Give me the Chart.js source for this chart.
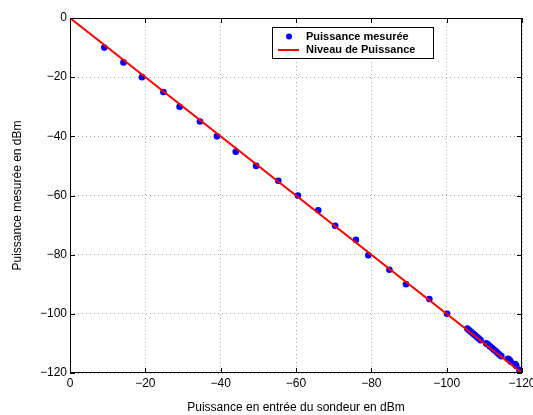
<!DOCTYPE html>
<html>
<head>
<meta charset="utf-8">
<script src="https://cdn.jsdelivr.net/npm/chart.js@4"></script>
<style>
  html, body { margin: 0; padding: 0; background: #fff; }
  #wrap { width: 533px; height: 415px; }
</style>
</head>
<body>
<div id="wrap"><canvas id="chart" width="533" height="415"></canvas></div>
<script>
// mesures (entrée / mesurée), en dBm
const measIn = [-9.1, -14.2, -19.1, -24.8, -29.1, -34.5, -39, -44, -49.4, -55.3, -60.5, -65.9, -70.4,
  -75.9, -79.2, -84.8, -89.2, -95.4, -100.1,
  -105.5, -106, -106.5, -107, -107.5, -108, -108.5, -109, -110.5, -111, -111.5, -112, -112.5,
  -113, -113.5, -114, -114.5, -116.3, -116.7, -117, -118.2, -118.5, -119.3, -119.7];
const measOut = [-10, -15, -20, -25, -30, -35, -40, -45.2, -50, -55, -60, -65, -70.2,
  -75, -80.2, -85.1, -90, -95, -100,
  -105, -105.6, -106.1, -106.7, -107.2, -107.8, -108.3, -108.9, -110, -110.4, -111, -111.5, -112.1,
  -112.6, -113.2, -113.8, -114.3, -115.2, -115.6, -116.2, -117, -117.6, -119, -119.8];

// niveau de puissance théorique
const levelIn = [0, -120];
const levelOut = [0, -120];

const xTicks = [0, -20, -40, -60, -80, -100, -120];
const yTicks = [-120, -100, -80, -60, -40, -20, 0];

const labels = ['Puissance mesurée', 'Niveau de Puissance'];
const xTitle = 'Puissance en entrée du sondeur en dBm';
const yTitle = 'Puissance mesurée en dBm';

const FONT = '"Liberation Sans", Arial, Helvetica, sans-serif';
const fmt = v => String(v).replace('-', '\u2212');

// ticks vers l'intérieur + cadre, façon matlab
const boxPlugin = {
  id: 'box',
  afterDraw(chart) {
    const { ctx, chartArea: a, scales } = chart;
    ctx.save();
    ctx.strokeStyle = '#000';
    ctx.lineWidth = 1;
    ctx.beginPath();
    xTicks.forEach(v => {
      const px = Math.round(scales.x.getPixelForValue(v)) + 0.5;
      ctx.moveTo(px, a.bottom); ctx.lineTo(px, a.bottom - 5);
      ctx.moveTo(px, a.top); ctx.lineTo(px, a.top + 5);
    });
    yTicks.forEach(v => {
      const py = Math.round(scales.y.getPixelForValue(v)) + 0.5;
      ctx.moveTo(a.left, py); ctx.lineTo(a.left + 5, py);
      ctx.moveTo(a.right, py); ctx.lineTo(a.right - 5, py);
    });
    ctx.stroke();
    ctx.strokeRect(a.left + 0.5, a.top + 0.5, a.right - a.left - 1, a.bottom - a.top - 1);

    // légende
    const lx = 272, ly = 27, lw = 161, lh = 31;
    ctx.fillStyle = '#fff';
    ctx.fillRect(lx, ly, lw, lh);
    ctx.strokeRect(lx + 0.5, ly + 0.5, lw, lh);
    ctx.fillStyle = '#0000ff';
    ctx.beginPath();
    ctx.arc(289, 36.5, 3, 0, Math.PI * 2);
    ctx.fill();
    ctx.strokeStyle = '#ff0000';
    ctx.lineWidth = 2;
    ctx.beginPath();
    ctx.moveTo(278, 50); ctx.lineTo(299, 50);
    ctx.stroke();
    ctx.fillStyle = '#000';
    ctx.font = 'bold 11px ' + FONT;
    ctx.textBaseline = 'middle';
    ctx.fillText(labels[0], 306, 36.5);
    ctx.fillText(labels[1], 306, 50);
    ctx.restore();
  }
};

new Chart(document.getElementById('chart'), {
  type: 'scatter',
  data: {
    datasets: [
      {
        label: labels[1],
        type: 'line',
        data: levelIn.map((x, i) => ({ x, y: levelOut[i] })),
        borderColor: '#ff0000',
        borderWidth: 2,
        pointRadius: 0,
        fill: false,
        order: 1
      },
      {
        label: labels[0],
        data: measIn.map((x, i) => ({ x, y: measOut[i] })),
        backgroundColor: '#0000ff',
        borderColor: '#0000ff',
        pointRadius: 3.3,
        pointBorderWidth: 0,
        order: 2
      }
    ]
  },
  options: {
    responsive: false,
    animation: false,
    layout: { padding: { left: 0, right: 11, top: 18, bottom: 0 } },
    plugins: { legend: { display: false }, tooltip: { enabled: false } },
    scales: {
      x: {
        type: 'linear',
        min: -120, max: 0,
        reverse: true,
        afterBuildTicks: s => { s.ticks = xTicks.map(v => ({ value: v })); },
        afterFit: s => { s.height = 42; s.paddingLeft = 0; s.paddingRight = 0; },
        ticks: {
          color: '#000', font: { family: FONT, size: 12 }, padding: 3,
          maxRotation: 0, callback: v => fmt(v)
        },
        grid: { color: '#aaa', drawTicks: false, tickLength: 0 },
        border: { display: false, dash: [1, 3] },
        title: {
          display: true, text: xTitle, color: '#000',
          font: { family: FONT, size: 12 }, padding: { top: 4, bottom: 0 }
        }
      },
      y: {
        type: 'linear',
        min: -120, max: 0,
        afterBuildTicks: s => { s.ticks = yTicks.map(v => ({ value: v })); },
        afterFit: s => { s.width = 70; s.paddingTop = 0; s.paddingBottom = 0; },
        ticks: {
          color: '#000', font: { family: FONT, size: 12 }, padding: 3,
          callback: v => fmt(v)
        },
        grid: { color: '#aaa', drawTicks: false, tickLength: 0 },
        border: { display: false, dash: [1, 3] },
        title: {
          display: true, text: yTitle, color: '#000',
          font: { family: FONT, size: 12 }, padding: { top: 10, bottom: 0 }
        }
      }
    }
  },
  plugins: [boxPlugin]
});
</script>
</body>
</html>
